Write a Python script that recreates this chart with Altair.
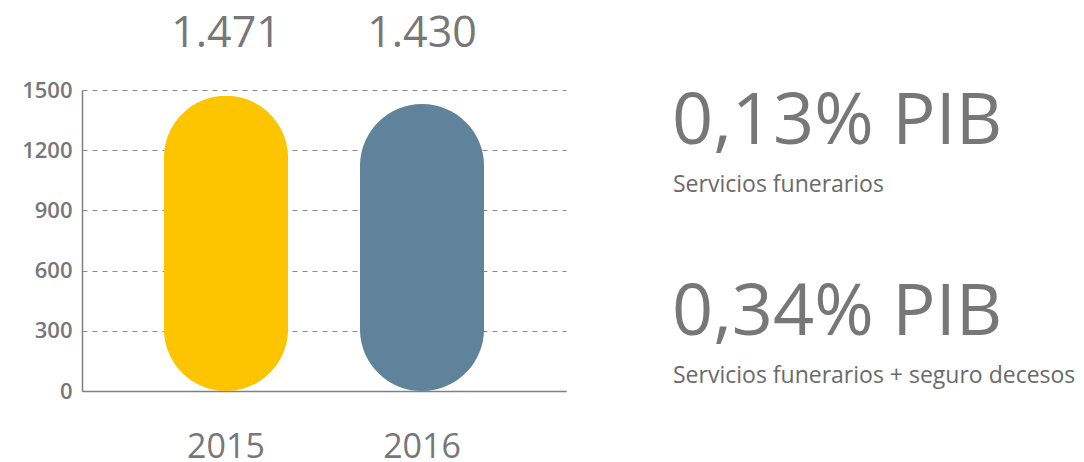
import altair as alt
import pandas as pd

years = ["2015", "2016"]
values = [1471, 1430]
value_labels = ["1.471", "1.430"]
colors = ["#FDC400", "#5F839B"]
y_ticks = [0, 300, 600, 900, 1200, 1500]
headline_1 = "0,13% PIB"
caption_1 = "Servicios funerarios"
headline_2 = "0,34% PIB"
caption_2 = "Servicios funerarios + seguro decesos"

df = pd.DataFrame({"year": years, "value": values, "label": value_labels})

FONT = "Open Sans"
GRAY = "#777777"

x_enc = alt.X(
    "year:N",
    scale=alt.Scale(paddingInner=0.367, paddingOuter=0.418),
    axis=alt.Axis(
        title=None, labelAngle=0, ticks=False, grid=False,
        domainColor="#808080", domainWidth=1.5,
        labelFont=FONT, labelFontSize=34, labelColor=GRAY,
        labelPadding=39,
    ),
)

bars = alt.Chart(df).mark_bar(cornerRadius=62).encode(
    x=x_enc,
    y=alt.Y(
        "value:Q",
        scale=alt.Scale(domain=[0, 1500], nice=False),
        axis=alt.Axis(
            title=None, values=y_ticks, ticks=False, format="d",
            domainColor="#808080", domainWidth=1.5,
            gridColor="#8a8a8a", gridDash=[5, 5], gridWidth=1,
            labelFont=FONT, labelFontSize=22, labelFontWeight=600,
            labelColor=GRAY, labelPadding=10,
        ),
    ),
    color=alt.Color("year:N", scale=alt.Scale(domain=years, range=colors), legend=None),
)

top_labels = alt.Chart(df).mark_text(
    font=FONT, fontSize=43, color=GRAY, baseline="alphabetic", align="center"
).encode(
    x=alt.X("year:N"),
    y=alt.value(-43),
    text="label:N",
)

def note(text, size, x, y, color=GRAY):
    return alt.Chart(pd.DataFrame({"t": [text]})).mark_text(
        font=FONT, fontSize=size, color=color, align="left", baseline="alphabetic"
    ).encode(x=alt.value(x), y=alt.value(y), text="t:N")

chart = alt.layer(
    bars,
    top_labels,
    note(headline_1, 72, 590, 54),
    note(caption_1, 23, 591, 102, "#6a6a6a"),
    note(headline_2, 72, 590, 245),
    note(caption_2, 23, 591, 293, "#6a6a6a"),
).properties(
    width=484,
    height=301,
    autosize=alt.AutoSizeParams(type="none"),
    padding={"left": 74, "top": 82, "right": 510, "bottom": 71},
).configure_view(stroke=None).configure_axis(domainCap="butt")

chart.save("out.html", embed_options={"renderer": "svg", "actions": False})
